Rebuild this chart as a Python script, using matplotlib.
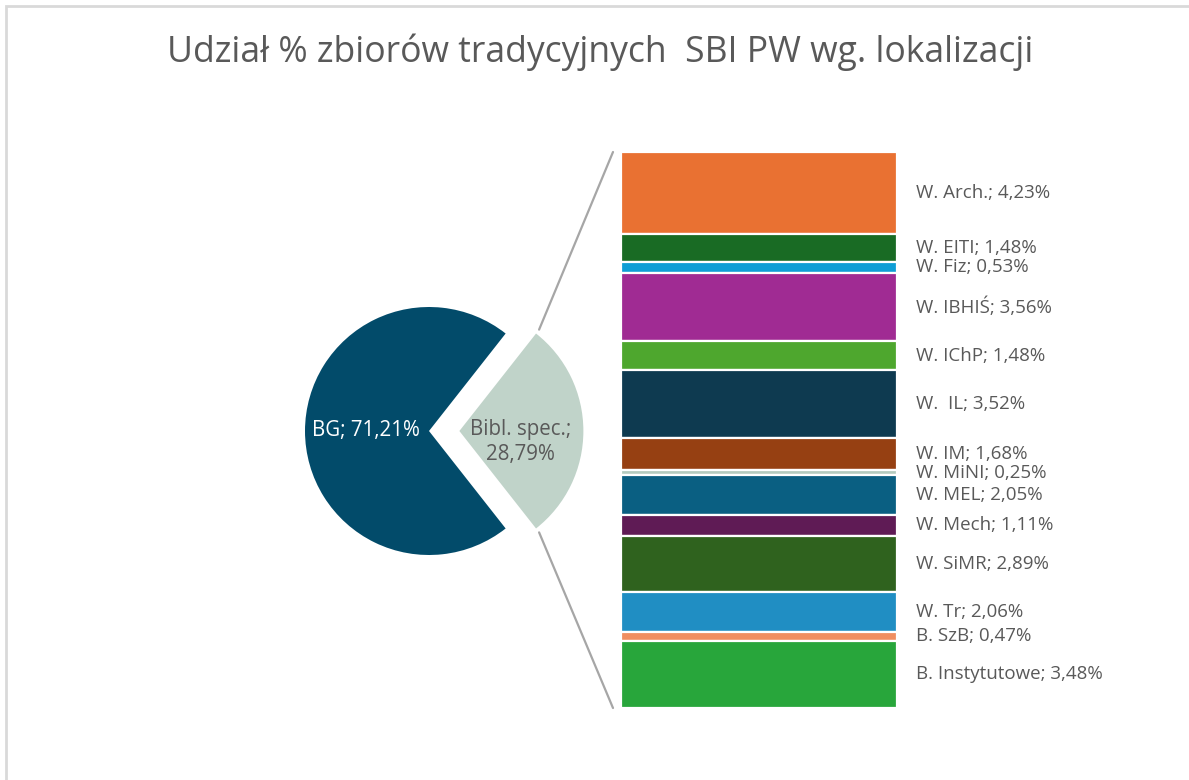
import matplotlib
matplotlib.use('Agg')
import matplotlib.pyplot as plt
from matplotlib.patches import ConnectionPatch, Rectangle
import numpy as np

plt.rcParams['font.family'] = ['Open Sans', 'DejaVu Sans']

# data
pie_labels = ['BG', 'Bibl. spec.']
pie_values = [71.21, 28.79]
pie_colors = ['#024B6A', '#C0D3C9']

bar_labels = ['W. Arch.', 'W. EITI', 'W. Fiz', 'W. IBHIŚ', 'W. IChP', 'W.  IL', 'W. IM',
              'W. MiNI', 'W. MEL', 'W. Mech', 'W. SiMR', 'W. Tr', 'B. SzB', 'B. Instytutowe']
bar_values = [4.23, 1.48, 0.53, 3.56, 1.48, 3.52, 1.68, 0.25, 2.05, 1.11, 2.89, 2.06, 0.47, 3.48]
bar_colors = ['#E97132', '#196B24', '#0F9ED5', '#A02B93', '#4EA72E', '#0E3A50', '#964012',
              '#B4CBBF', '#0A5F82', '#5F1B55', '#2F621E', '#208EC3', '#F08E60', '#28A63B']

title = 'Udział % zbiorów tradycyjnych  SBI PW wg. lokalizacji'
text_col = '#595959'

W, H = 1189, 780
fig = plt.figure(figsize=(W / 100, H / 100), dpi=100)

def px_axes(x0, y0, x1, y1):
    return fig.add_axes([x0 / W, 1 - y1 / H, (x1 - x0) / W, (y1 - y0) / H])

def pct(v):
    return f'{v:.2f}'.replace('.', ',') + '%'

# frame (only top and left visible in the crop)
fig.patches.append(Rectangle((6 / W, -0.1), 1.2, 1 - 6 / H + 0.1, transform=fig.transFigure,
                             fill=False, edgecolor='#D9D9D9', linewidth=2))

fig.text(600 / W, 1 - 52 / H, title, ha='center', va='center', fontsize=25.6, color=text_col)

# pie
cx, cy, R = 429, 431, 124
ax1 = px_axes(cx - 160, cy - 160, cx + 160, cy + 160)
lim = 160 / R
explode = [0, 0.245]
start = pie_values[1] / 100 * 360 / 2
wedges, _ = ax1.pie(pie_values, colors=pie_colors, startangle=start, explode=explode,
                    radius=1, wedgeprops=dict(linewidth=0))
ax1.set_xlim(-lim, lim)
ax1.set_ylim(-lim, lim)
ax1.set_aspect('equal')
ax1.axis('off')

pie_texts = [f'{pie_labels[0]}; {pct(pie_values[0])}', f'{pie_labels[1]};\n{pct(pie_values[1])}']
for w, txt, ex, col, dy in zip(wedges, pie_texts, explode, ['white', text_col], [0, -11]):
    mid = np.deg2rad((w.theta1 + w.theta2) / 2)
    d = 0.5 + ex
    ax1.annotate(txt, (d * np.cos(mid), d * np.sin(mid)), xytext=(-1, dy), textcoords='offset pixels',
                 ha='center', va='center', fontsize=14.8, color=col, linespacing=1.3)

# stacked bar
bx0, bx1, by0, by1 = 621, 897, 152, 708
ax2 = px_axes(bx0, by0, bx1, by1)
total = sum(bar_values)
bottom = 0
for lab, val, col in zip(bar_labels, bar_values, bar_colors):
    ax2.bar(0, val, bottom=bottom, width=1, color=col, edgecolor='white', linewidth=1.6)
    ax2.text(0.5 + 19 / (bx1 - bx0), bottom + val / 2, f'{lab}; {pct(val)}',
             ha='left', va='center', fontsize=13.5, color=text_col, clip_on=False)
    bottom += val
ax2.set_xlim(-0.5, 0.5)
ax2.set_ylim(total, 0)
ax2.axis('off')

# connectors
sp = wedges[1]
ang1, ang2 = np.deg2rad(sp.theta1), np.deg2rad(sp.theta2)
ox = explode[1] * np.cos((ang1 + ang2) / 2)
oy = explode[1] * np.sin((ang1 + ang2) / 2)
gap = -0.5 - 8 / (bx1 - bx0)
for ang, yb in [(ang2, 0), (ang1, total)]:
    con = ConnectionPatch(xyA=(ox + 1.04 * np.cos(ang), oy + 1.04 * np.sin(ang)), coordsA=ax1.transData,
                          xyB=(gap, yb), coordsB=ax2.transData, color='#A6A6A6', linewidth=1.6)
    fig.add_artist(con)

fig.savefig('out.png', dpi=100, facecolor='white')
